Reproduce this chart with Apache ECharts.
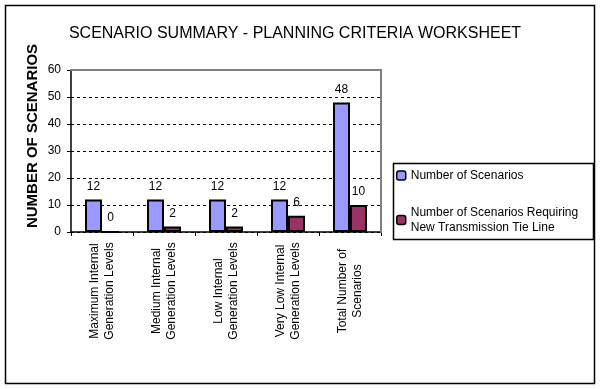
<!DOCTYPE html>
<html>
<head>
<meta charset="utf-8">
<script src="https://cdn.jsdelivr.net/npm/echarts@6/dist/echarts.min.js"></script>
<style>
html,body{margin:0;padding:0;background:#fff;}
#chart{width:600px;height:389px;}
</style>
</head>
<body>
<div id="chart"></div>
<script>
var categories = [
  "Maximum Internal\nGeneration Levels",
  "Medium Internal\nGeneration Levels",
  "Low Internal\nGeneration Levels",
  "Very Low Internal\nGeneration Levels",
  "Total Number of\nScenarios"
];
var seriesNames = ["Number of Scenarios", "Number of Scenarios Requiring\nNew Transmission Tie Line"];
var numberOfScenarios = [12, 12, 12, 12, 48];
var requiringTieLine = [0, 2, 2, 6, 10];
var yTicks = [0, 10, 20, 30, 40, 50, 60];
var titleText = "SCENARIO SUMMARY - PLANNING CRITERIA WORKSHEET";
var yAxisTitle = "NUMBER OF SCENARIOS";

var FONT = 'Arial, "Liberation Sans", sans-serif';
var chart = echarts.init(document.getElementById('chart'));
var labelCfg = {show: true, position: 'top', distance: 7, color: '#000', fontFamily: FONT, fontSize: 12};
chart.setOption({
  animation: false,
  backgroundColor: '#fff',
  title: {
    text: titleText, left: 290, top: 21, textAlign: 'center',
    textStyle: {fontFamily: FONT, fontSize: 16, fontWeight: 'normal', color: '#000'}
  },
  graphic: [
    {type: 'rect', shape: {x: 5.5, y: 5.5, width: 589, height: 378}, style: {fill: null, stroke: '#000', lineWidth: 1.5}, z: 100},
    {type: 'rect', shape: {x: 393.5, y: 163.5, width: 200, height: 76}, style: {fill: null, stroke: '#000', lineWidth: 1.5}, z: 100},
    {type: 'text', x: 33, y: 136, rotation: Math.PI / 2,
      style: {text: yAxisTitle, fontFamily: FONT, fontSize: 15, fontWeight: 'bold', fill: '#000', align: 'center', verticalAlign: 'middle'}}
  ],
  legend: {
    orient: 'vertical', left: 396, top: 168, itemWidth: 9, itemHeight: 9, itemGap: 22, padding: 0,
    itemStyle: {borderColor: '#000', borderWidth: 1.5},
    textStyle: {fontFamily: FONT, fontSize: 12, color: '#000', lineHeight: 15},
    data: seriesNames
  },
  grid: {left: 71, right: 219, top: 70, bottom: 157, containLabel: false},
  xAxis: [{
    type: 'category', data: categories,
    axisLine: {lineStyle: {color: '#000', width: 1.5}},
    axisTick: {show: true, length: 4, lineStyle: {color: '#000'}},
    axisLabel: {rotate: 90, interval: 0, align: 'center', verticalAlign: 'middle', margin: 59,
      fontFamily: FONT, fontSize: 12, color: '#000', lineHeight: 15}
  }, {
    type: 'category', position: 'top', data: categories, z: 10,
    axisLine: {onZero: false, lineStyle: {color: '#808080', width: 2}}, axisTick: {show: false}, axisLabel: {show: false}
  }],
  yAxis: [{
    type: 'value', min: 0, max: 60, interval: 10,
    axisLine: {show: true, lineStyle: {color: '#000', width: 1.5}},
    axisTick: {show: true, length: 4, lineStyle: {color: '#000'}},
    axisLabel: {margin: 10, fontFamily: FONT, fontSize: 12, color: '#000',
      formatter: function (v) { return yTicks.indexOf(v) >= 0 ? String(v) : ''; }},
    splitLine: {show: true, lineStyle: {color: '#000', type: [3, 3], width: 1}}
  }, {
    type: 'value', position: 'right', min: 0, max: 60, interval: 10, z: 10,
    axisLine: {show: true, onZero: false, lineStyle: {color: '#808080', width: 2}},
    axisTick: {show: false}, axisLabel: {show: false}, splitLine: {show: false}
  }],
  series: [{
    name: seriesNames[0], type: 'bar', data: numberOfScenarios, barWidth: 17, barGap: '0%',
    itemStyle: {color: '#9999FF', borderColor: '#000', borderWidth: 2}, label: labelCfg
  }, {
    name: seriesNames[1], type: 'bar', data: requiringTieLine, barWidth: 17, barGap: '0%',
    itemStyle: {color: '#993366', borderColor: '#000', borderWidth: 2}, label: labelCfg
  }]
});
</script>
</body>
</html>
